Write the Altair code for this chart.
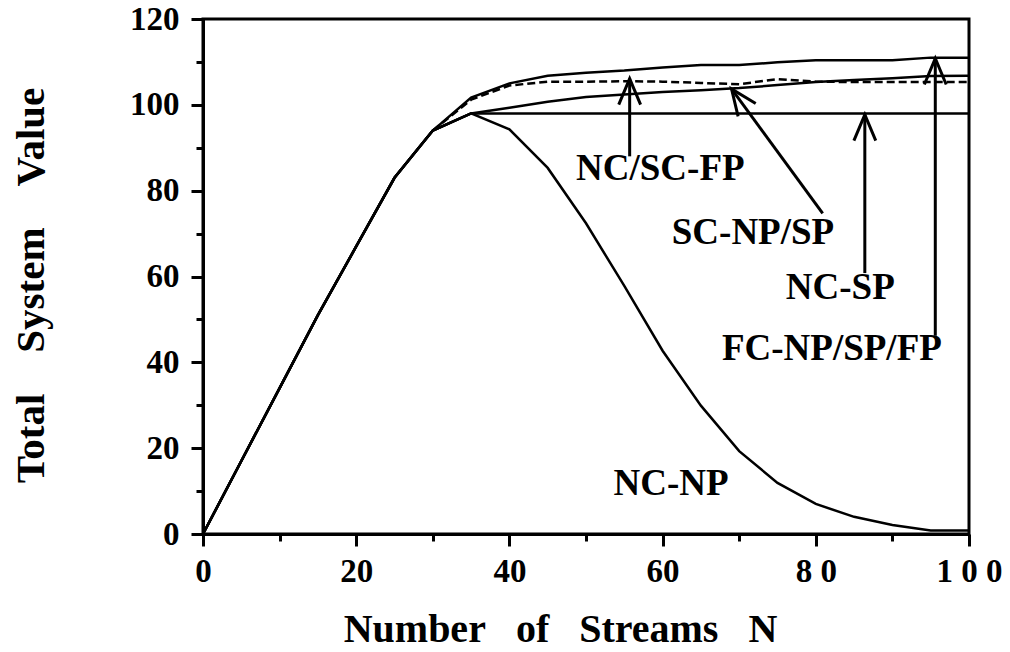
import math
import altair as alt
import pandas as pd

# ---------------- data ----------------
rise_n = [0, 5, 10, 15, 20, 25, 30]
rise_v = [0, 17, 34, 51, 67, 83, 94]

tail_n = [35, 40, 45, 50, 55, 60, 65, 70, 75, 80, 85, 90, 95, 100]
nc_np = [98, 94.3, 85.3, 72.4, 57.8, 42.7, 29.9, 19.3, 11.9, 7.0, 4.0, 2.1, 0.8, 0.8]
nc_sp = [98, 98, 98, 98, 98, 98, 98, 98, 98, 98, 98, 98, 98, 98]
sc_np_sp = [98, 99.3, 100.7, 101.8, 102.4, 103.0, 103.4, 103.9, 104.6, 105.3, 105.8, 106.2, 106.7, 106.8]
fc_np_sp_fp = [101.7, 105.0, 106.8, 107.5, 108.0, 108.7, 109.3, 109.3, 109.9, 110.4, 110.4, 110.4, 111.0, 111.0]
nc_sc_fp = [101.2, 104.5, 105.4, 105.4, 105.5, 105.4, 105.1, 104.8, 106.0, 105.4, 105.3, 105.3, 105.3, 105.3]

series_names = ["NC-NP", "NC-SP", "SC-NP/SP", "FC-NP/SP/FP", "NC/SC-FP"]
series_vals = [nc_np, nc_sp, sc_np_sp, fc_np_sp_fp, nc_sc_fp]
dashed_series = "NC/SC-FP"

# annotation labels
label_text = ["NC/SC-FP", "SC-NP/SP", "NC-SP", "FC-NP/SP/FP", "NC-NP"]
label_n = [59.7, 71.8, 83.2, 82.1, 61.1]
label_v = [82.6, 67.5, 54.8, 40.6, 9.0]

# arrows (tail -> tip)
arrow_tail_n = [55.7, 80.9, 86.4, 95.6]
arrow_tail_v = [88.0, 74.7, 60.8, 46.2]
arrow_tip_n = [55.7, 69.0, 86.4, 95.6]
arrow_tip_v = [106.1, 103.7, 97.7, 110.8]

# axes
x_tick_vals = [0, 20, 40, 60, 80, 100]
x_tick_labels = ["0", "20", "40", "60", "8 0", "1 0 0"]
x_minor_vals = [10, 30, 50, 70, 90]
y_tick_vals = [0, 20, 40, 60, 80, 100, 120]
y_tick_labels = ["0", "20", "40", "60", "80", "100", "120"]
y_minor_vals = [10, 30, 50, 70, 90, 110]

x_title = "\u00a0\u00a0\u00a0".join(["Number", "of", "Streams", "N"])
y_title = "\u00a0\u00a0\u00a0\u00a0".join(["Total", "System", "Value"])

# ---------------- frames ----------------
rows = []
for name, vals in zip(series_names, series_vals):
    if name == dashed_series:
        ns = rise_n[-1:] + tail_n
        vs = rise_v[-1:] + vals
    else:
        ns = rise_n + tail_n
        vs = rise_v + vals
    for n, v in zip(ns, vs):
        rows.append({"series": name, "n": n, "v": v})
lines_df = pd.DataFrame(rows)

W, H = 766, 515
px_n = W / 100.0
px_v = H / 120.0
angs = []
for tn, tv, pn, pv in zip(arrow_tail_n, arrow_tail_v, arrow_tip_n, arrow_tip_v):
    dx = (tn - pn) * px_n
    dy = (pv - tv) * px_v
    angs.append(math.degrees(math.atan2(-dx, dy)) % 360)
arrows_df = pd.DataFrame({
    "n": arrow_tail_n, "v": arrow_tail_v,
    "tip_n": arrow_tip_n, "tip_v": arrow_tip_v, "ang": angs,
})
labels_df = pd.DataFrame({"text": label_text, "n": label_n, "v": label_v})


def label_expr(vals, labs):
    expr = "''"
    for v, lab in reversed(list(zip(vals, labs))):
        expr = f"datum.value == {v} ? '{lab}' : ({expr})"
    return expr


FONT = "Liberation Serif"

x_axis = alt.Axis(
    values=sorted(x_tick_vals + x_minor_vals),
    labelExpr=label_expr(x_tick_vals, x_tick_labels),
    tickSize={"condition": {"test": "datum.value % 20 == 0", "value": 12}, "value": 7},
    labelFlush=False,
    labelOverlap=False,
    labelPadding=9,
    grid=False,
    title=x_title,
    titleFontSize=40,
    titleX=357,
    titleY=107,
    titleAlign="center",
    titleBaseline="alphabetic",
)
y_axis = alt.Axis(
    values=sorted(y_tick_vals + y_minor_vals),
    labelExpr=label_expr(y_tick_vals, y_tick_labels),
    tickSize={"condition": {"test": "datum.value % 20 == 0", "value": 12}, "value": 7},
    labelFlush=False,
    labelOverlap=False,
    labelPadding=12,
    grid=False,
    title=y_title,
    titleFontSize=41,
    titleAngle=270,
    titleX=-160,
    titleY=266,
    titleAlign="center",
    titleBaseline="alphabetic",
)

xs = alt.Scale(domain=[0, 100], nice=False, zero=False)
ys = alt.Scale(domain=[0, 120], nice=False, zero=False)
X = alt.X("n:Q", scale=xs, axis=x_axis)
Y = alt.Y("v:Q", scale=ys, axis=y_axis)

base = alt.Chart(lines_df)
solid = base.transform_filter(alt.datum.series != dashed_series).mark_line(
    color="black", strokeWidth=2.5
).encode(x=X, y=Y, detail="series:N")
dashed = base.transform_filter(alt.datum.series == dashed_series).mark_line(
    color="black", strokeWidth=2.5, strokeDash=[8, 4]
).encode(x=X, y=Y)

shafts = alt.Chart(arrows_df).mark_rule(color="black", strokeWidth=3).encode(
    x=X, y=Y, x2="tip_n:Q", y2="tip_v:Q",
)
heads = alt.Chart(arrows_df).transform_calculate(
    n="datum.tip_n", v="datum.tip_v"
).mark_point(
    shape="M -0.42 1 L 0 0 L 0.42 1",
    size=2704,
    filled=False,
    stroke="black",
    strokeWidth=3,
    opacity=1,
).encode(
    x=X, y=Y,
    angle=alt.Angle("ang:Q", scale=None),
)

texts = alt.Chart(labels_df).mark_text(
    font=FONT, fontWeight="bold", fontSize=37, align="center",
    baseline="alphabetic", color="black",
).encode(x=X, y=Y, text="text:N")

chart = alt.layer(solid, dashed, shafts, heads, texts).properties(
    width=W,
    height=H,
    padding={"left": 195, "top": 11, "right": 33, "bottom": 110},
    autosize=alt.AutoSizeParams(type="none"),
).configure_view(
    stroke="black", strokeWidth=3
).configure_axis(
    domainColor="black", domainWidth=3,
    tickColor="black", tickWidth=3,
    labelFont=FONT, labelFontWeight="bold", labelFontSize=33, labelColor="black",
    titleFont=FONT, titleFontWeight="bold", titleColor="black",
)

chart.save("out.html", embed_options={"renderer": "svg", "actions": False})
